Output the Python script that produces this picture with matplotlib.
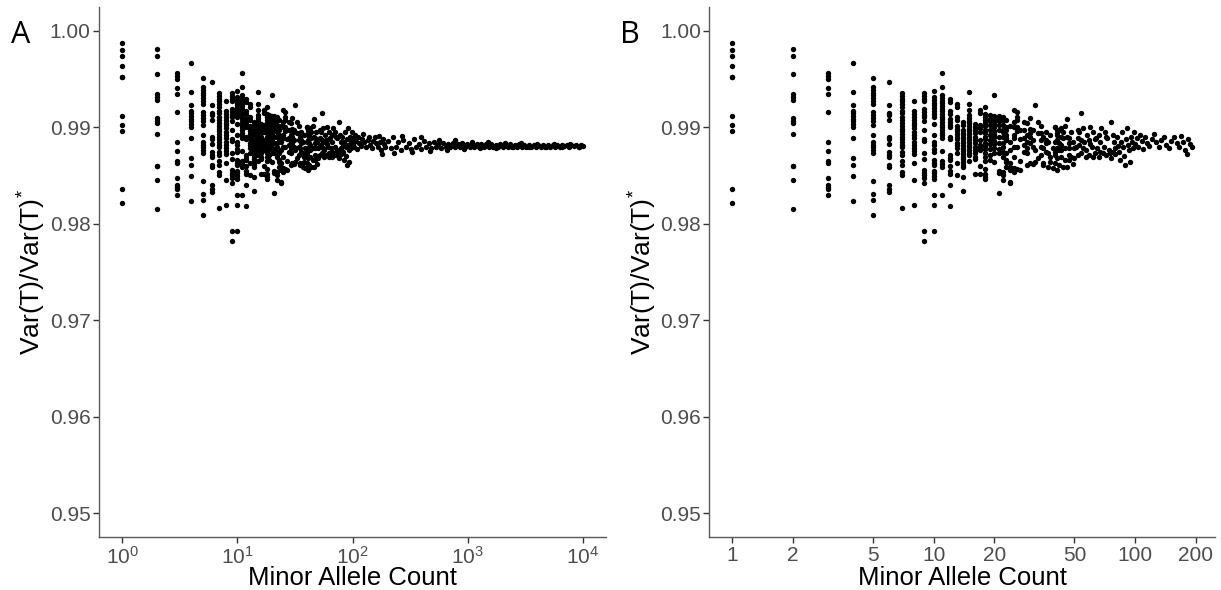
import numpy as np
import matplotlib
matplotlib.use("Agg")
import matplotlib.pyplot as plt

plt.rcParams["font.family"] = ["Liberation Sans", "DejaVu Sans"]
plt.rcParams["mathtext.fontset"] = "custom"
plt.rcParams["mathtext.rm"] = "Liberation Sans"
plt.rcParams["mathtext.it"] = "Liberation Sans"
plt.rcParams["mathtext.default"] = "regular"

# variance ratio values read per minor allele count (low counts, one column each)
mac1 = [0.99876, 0.99800, 0.99737, 0.99634, 0.99523, 0.99516, 0.99119, 0.99019, 0.98957, 0.98359, 0.98211]
mac2 = [0.99807, 0.99737, 0.99548, 0.99344, 0.99309, 0.99282, 0.99092, 0.99064, 0.99040, 0.98933,
        0.98601, 0.98594, 0.98453, 0.98156]
mac3 = [0.99558, 0.99530, 0.99503, 0.99409, 0.99344, 0.99154, 0.98850, 0.98753, 0.98653, 0.98632,
        0.98473, 0.98397, 0.98377, 0.98356, 0.98294]
mac4 = [0.99662, 0.99364, 0.99226, 0.99171, 0.99143, 0.99116, 0.99088, 0.99060, 0.99033, 0.99005,
        0.98888, 0.98681, 0.98605, 0.98494, 0.98238]
mac5 = [0.99513, 0.99413, 0.99385, 0.99358, 0.99330, 0.99302, 0.99271, 0.99240, 0.99161, 0.99126,
        0.99095, 0.99064, 0.99026, 0.98915, 0.98846, 0.98819, 0.98791, 0.98763, 0.98736, 0.98439,
        0.98308, 0.98245, 0.98093]
mac6 = [0.99465, 0.99226, 0.99150, 0.99123, 0.99074, 0.98902, 0.98881, 0.98826, 0.98743, 0.98715,
        0.98694, 0.98611, 0.98584, 0.98397, 0.98363, 0.98328]
mac7 = [0.99351, 0.99323, 0.99295, 0.99268, 0.99240, 0.99206, 0.99171, 0.99143, 0.99109, 0.99074,
        0.99040, 0.99012, 0.98985, 0.98957, 0.98929, 0.98902, 0.98874, 0.98846, 0.98819, 0.98791,
        0.98743, 0.98715, 0.98646, 0.98611, 0.98535, 0.98508, 0.98162]
mac8 = [0.99271, 0.99168, 0.99137, 0.99109, 0.99074, 0.99047, 0.99019, 0.98988, 0.98953, 0.98919,
        0.98884, 0.98850, 0.98815, 0.98788, 0.98753, 0.98719, 0.98632, 0.98453, 0.98193]
mac9 = [0.99351, 0.99323, 0.99295, 0.99268, 0.99192, 0.99157, 0.99130, 0.99102, 0.99067, 0.98971,
        0.98881, 0.98853, 0.98729, 0.98674, 0.98556, 0.98529, 0.98501, 0.98473, 0.98418, 0.97928,
        0.97817]
mac10 = [0.99378, 0.99309, 0.99282, 0.99254, 0.99226, 0.99199, 0.99171, 0.99137, 0.99102, 0.99033,
         0.98915, 0.98846, 0.98819, 0.98777, 0.98743, 0.98660, 0.98632, 0.98605, 0.98549, 0.98522,
         0.98494, 0.98466, 0.98301, 0.98197, 0.97928]
mac11 = [0.99558, 0.99413, 0.99330, 0.99302, 0.99275, 0.99247, 0.99219, 0.99192, 0.99164, 0.99137,
         0.99109, 0.99081, 0.99054, 0.99026, 0.98998, 0.98971, 0.98943, 0.98915, 0.98888, 0.98750,
         0.98646, 0.98618, 0.98591, 0.98301]
mac12 = [0.99288, 0.99261, 0.99171, 0.99137, 0.99081, 0.99054, 0.99026, 0.98998, 0.98902, 0.98874,
         0.98715, 0.98681, 0.98660, 0.98598, 0.98542, 0.98515, 0.98397, 0.98183]
mac13 = [0.99240, 0.99212, 0.99102, 0.99074, 0.99012, 0.98985, 0.98957, 0.98929, 0.98902, 0.98874,
         0.98839, 0.98812, 0.98784, 0.98736, 0.98632, 0.98508]
mac14 = [0.99054, 0.99026, 0.98971, 0.98943, 0.98915, 0.98888, 0.98860, 0.98833, 0.98805, 0.98777,
         0.98750, 0.98722, 0.98694, 0.98667, 0.98639, 0.98611, 0.98584, 0.98487, 0.98335]
mac15 = [0.99364, 0.99240, 0.99178, 0.99123, 0.99095, 0.99067, 0.99040, 0.99012, 0.98985, 0.98957,
         0.98929, 0.98902, 0.98874, 0.98846, 0.98819, 0.98791, 0.98763, 0.98736, 0.98708, 0.98653]
mac16 = [0.99033, 0.99005, 0.98971, 0.98936, 0.98902, 0.98867, 0.98833, 0.98798, 0.98763, 0.98729,
         0.98694, 0.98667, 0.98515]
mac17 = [0.99178, 0.99150, 0.99019, 0.98991, 0.98950, 0.98867, 0.98819, 0.98791, 0.98763, 0.98598,
         0.98515]
mac18 = [0.99206, 0.99137, 0.99109, 0.99074, 0.99047, 0.99012, 0.98971, 0.98936, 0.98902, 0.98874,
         0.98839, 0.98805, 0.98770, 0.98729, 0.98694, 0.98646, 0.98570, 0.98515, 0.98487, 0.98460]
mac19 = [0.99123, 0.99088, 0.99061, 0.99019, 0.98971, 0.98922, 0.98867, 0.98826, 0.98770, 0.98715,
         0.98660]
mac20 = [0.99330, 0.99116, 0.99088, 0.99061, 0.99033, 0.98998, 0.98964, 0.98929, 0.98895, 0.98860,
         0.98826, 0.98784, 0.98736, 0.98639]
mac21 = [0.99116, 0.99088, 0.99067, 0.99019, 0.98971, 0.98895, 0.98833, 0.98777, 0.98729, 0.98549,
         0.98522, 0.98321]

# mid range cloud (counts 22-80)
mid_counts = [22, 22, 23, 22, 23, 22, 22, 23, 22, 23, 22, 22, 22, 23, 22, 23, 23, 24, 24, 25,
              26, 27, 23, 24, 25, 22, 22, 22, 24, 24, 25, 26, 26, 26, 25, 25, 26, 27, 25, 25,
              23, 24, 25, 26, 29, 28, 28, 29, 28, 29, 29, 30, 30, 31, 30, 31, 29, 30, 32, 30,
              32, 33, 34, 35, 36, 34, 36, 34, 36, 34, 37, 38, 35, 37, 39, 40, 41, 41, 41, 40,
              41,
              40, 42, 43, 45, 46, 54, 41, 43, 44, 46, 47, 40, 42, 43, 47, 49, 52, 53, 52, 54,
              56, 59, 60, 62, 64, 66, 68, 71, 73, 76, 78, 41, 43, 45, 47, 50, 53, 55, 57, 61,
              63, 67, 69, 72, 75, 78, 40, 43, 47, 48, 52, 54, 59, 62, 66, 40, 42, 44, 46, 41,
              47, 50, 76,
              23, 24, 24, 25, 26, 27, 27, 28, 28, 29, 30, 31, 31, 32, 33, 33, 34, 35, 35, 36,
              37, 38, 38, 39, 42, 44, 45, 48, 49, 51, 55, 57, 58, 60, 63, 65, 67, 70, 72, 74]
mid_values = [0.99109, 0.99074, 0.99074, 0.99023, 0.98998, 0.98971, 0.98953, 0.98971, 0.98902, 0.98884,
              0.98833, 0.98798, 0.98746, 0.98729, 0.98694, 0.98660, 0.98643, 0.98625, 0.98591, 0.98573,
              0.98563, 0.98556, 0.98591, 0.98556, 0.98539, 0.98539, 0.98504, 0.98453, 0.98435, 0.98418,
              0.99178, 0.99161, 0.99109, 0.99074, 0.99057, 0.99005, 0.99005, 0.98971, 0.98919, 0.98884,
              0.98867, 0.98850, 0.98798, 0.98798, 0.99040, 0.98971, 0.98884, 0.98850, 0.98815, 0.98781,
              0.98919, 0.98902, 0.98936, 0.98971, 0.98833, 0.98798, 0.98729, 0.98625, 0.98643, 0.99092,
              0.99230, 0.99057, 0.98936, 0.98902, 0.98867, 0.98867, 0.98833, 0.98798, 0.98746, 0.98712,
              0.98729, 0.98694, 0.98625, 0.98591, 0.98573, 0.99005, 0.98971, 0.98936, 0.98867, 0.98746,
              0.98677,
              0.99005, 0.98971, 0.98988, 0.99012, 0.99081, 0.99150, 0.98919, 0.98902, 0.98884, 0.98902,
              0.98884, 0.98850, 0.98833, 0.98815, 0.98833, 0.98850, 0.98971, 0.98953, 0.98884, 0.98867,
              0.98850, 0.98867, 0.99005, 0.98953, 0.98884, 0.98919, 0.98988, 0.98953, 0.98884, 0.99057,
              0.98919, 0.98781, 0.98763, 0.98781, 0.98781, 0.98781, 0.98815, 0.98781, 0.98763, 0.98798,
              0.98729, 0.98746, 0.98729, 0.98712, 0.98729, 0.98746, 0.98712, 0.98694, 0.98712, 0.98694,
              0.98712, 0.98729, 0.98712, 0.98694, 0.98694, 0.98625, 0.98608, 0.98591, 0.98591, 0.98556,
              0.98660, 0.98677, 0.98677,
              0.98920, 0.99010, 0.98760, 0.98690, 0.98960, 0.98880, 0.98650, 0.99050, 0.98740, 0.98610,
              0.98980, 0.98870, 0.98620, 0.98760, 0.98940, 0.98680, 0.99010, 0.98780, 0.98610, 0.98950,
              0.98850, 0.98920, 0.98640, 0.98780, 0.98760, 0.98950, 0.98660, 0.98950, 0.98620, 0.98800,
              0.98990, 0.98690, 0.98920, 0.98830, 0.98880, 0.98780, 0.98850, 0.98800, 0.98900, 0.98760]

# upper range of panel B (counts 79-192)
high_counts = [79, 80, 80, 81, 82, 83, 84, 85, 86, 87, 88, 89, 90, 91, 92, 93, 94, 96, 97, 98,
               99, 100, 102, 104, 106, 108, 110, 112, 115, 118, 121, 124, 127, 131, 135, 139, 143, 147,
               151, 156, 161, 166, 170, 174, 178, 181, 184, 188, 192]
high_values = [0.98850, 0.98780, 0.98720, 0.98900, 0.98810, 0.98740, 0.98660, 0.98850, 0.98950, 0.98790,
               0.98700, 0.98610, 0.98880, 0.98990, 0.98820, 0.98760, 0.98640, 0.98900, 0.98850, 0.98780,
               0.98950, 0.98830, 0.98890, 0.98800, 0.98920, 0.98860, 0.98770, 0.98900, 0.98840, 0.98810,
               0.98880, 0.98930, 0.98850, 0.98800, 0.98870, 0.98900, 0.98820, 0.98780, 0.98860, 0.98900,
               0.98840, 0.98800, 0.98910, 0.98850, 0.98760, 0.98720, 0.98880, 0.98830, 0.98800]

# tail only visible in panel A (counts 205-10000)
tail_counts = [205, 214, 226, 238, 250, 263, 277, 292, 307, 323, 340, 358, 376, 395, 415, 436,
               458, 481, 505, 530, 556, 584, 613, 643, 675, 708, 743, 780, 818, 858, 900, 944,
               990, 1038, 1089, 1142, 1198, 1256, 1317, 1381, 1448, 1518, 1592, 1669, 1750, 1835,
               1924, 2017, 2115, 2217, 2325, 2437, 2555, 2679, 2809, 2945, 3088, 3237, 3394, 3558,
               3730, 3911, 4100, 4299, 4507, 4725, 4954, 5193, 5445, 5708, 5985, 6274, 6578, 6896,
               7230, 7580, 7947, 8331, 8734, 9157, 9600, 10000,
               230, 270, 330, 390, 470, 560, 660, 780, 920, 1080, 1270, 1500, 1770, 2090, 2460,
               2900, 3420, 4030, 4750, 5600, 6600, 7780, 9170]
tail_values = [0.98860, 0.98780, 0.98900, 0.98790, 0.98850, 0.98760, 0.98870, 0.98800, 0.98840, 0.98770,
               0.98880, 0.98790, 0.98830, 0.98770, 0.98860, 0.98800, 0.98840, 0.98780, 0.98850, 0.98800,
               0.98830, 0.98780, 0.98840, 0.98800, 0.98830, 0.98790, 0.98840, 0.98800, 0.98830, 0.98790,
               0.98835, 0.98800, 0.98830, 0.98795, 0.98825, 0.98800, 0.98830, 0.98795, 0.98825, 0.98800,
               0.98830, 0.98795, 0.98825, 0.98800, 0.98820, 0.98795, 0.98825, 0.98800, 0.98820, 0.98795,
               0.98825, 0.98800, 0.98820, 0.98800, 0.98825, 0.98800, 0.98820, 0.98795, 0.98820, 0.98800,
               0.98820, 0.98800, 0.98815, 0.98800, 0.98820, 0.98800, 0.98815, 0.98800, 0.98820, 0.98800,
               0.98815, 0.98800, 0.98815, 0.98805, 0.98820, 0.98800, 0.98815, 0.98805, 0.98815, 0.98800,
               0.98815, 0.98810,
               0.98730, 0.98910, 0.98740, 0.98900, 0.98750, 0.98870, 0.98760, 0.98870, 0.98770, 0.98850,
               0.98780, 0.98850, 0.98780, 0.98840, 0.98790, 0.98840, 0.98790, 0.98830, 0.98790, 0.98830,
               0.98790, 0.98830, 0.98790]

low_cols = [mac1, mac2, mac3, mac4, mac5, mac6, mac7, mac8, mac9, mac10, mac11,
            mac12, mac13, mac14, mac15, mac16, mac17, mac18, mac19, mac20, mac21]

counts = []
values = []
for i, col in enumerate(low_cols):
    counts += [i + 1] * len(col)
    values += col
counts += mid_counts + high_counts + tail_counts
values += mid_values + high_values + tail_values
counts = np.array(counts, dtype=float)
values = np.array(values)

fig = plt.figure(figsize=(12.21, 5.90), dpi=100)
axA = fig.add_axes([0.0811, 0.0893, 0.4152, 0.8995])
axB = fig.add_axes([0.5809, 0.0893, 0.4142, 0.8995])

grey_text = "#4d4d4d"
line_col = "#5a5a5a"


def style(ax):
    for s in ["top", "right"]:
        ax.spines[s].set_visible(False)
    for s in ["left", "bottom"]:
        ax.spines[s].set_color(line_col)
        ax.spines[s].set_linewidth(1.0)
    ax.tick_params(axis="both", which="major", length=4, width=1.0, color="#333333",
                   labelsize=15, labelcolor=grey_text, pad=2)
    ax.tick_params(axis="both", which="minor", length=0)
    ax.set_ylim(0.9475, 1.0025)
    ax.set_yticks([0.95, 0.96, 0.97, 0.98, 0.99, 1.00])
    ax.set_yticklabels(["0.95", "0.96", "0.97", "0.98", "0.99", "1.00"])
    ax.set_xscale("log")
    ax.set_xlabel("Minor Allele Count", fontsize=18.5, color="black")
    ax.set_ylabel("Var(T)/Var(T)$^{*}$", fontsize=19, color="black")
    ax.xaxis.set_label_coords(0.5, -0.054)
    ax.yaxis.set_label_coords(-0.100, 0.5)


# panel A: all counts
axA.scatter(counts, values, s=15, color="black", linewidths=0)
style(axA)
axA.set_xlim(10 ** -0.2, 10 ** 4.2)
axA.set_xticks([1, 10, 100, 1000, 10000])
axA.set_xticklabels([r"$10^{0}$", r"$10^{1}$", r"$10^{2}$", r"$10^{3}$", r"$10^{4}$"])

# panel B: counts up to 200
keep = counts <= 200
axB.scatter(counts[keep], values[keep], s=15, color="black", linewidths=0)
style(axB)
lo = np.log10(counts[keep].min())
hi = np.log10(counts[keep].max())
pad = 0.05 * (hi - lo)
axB.set_xlim(10 ** (lo - pad), 10 ** (hi + pad))
axB.set_xticks([1, 2, 5, 10, 20, 50, 100, 200])
axB.set_xticklabels(["1", "2", "5", "10", "20", "50", "100", "200"])

fig.text(0.009, 0.94, "A", fontsize=22, family="Open Sans", va="center", ha="left")
fig.text(0.508, 0.94, "B", fontsize=22, family="Open Sans", va="center", ha="left")

fig.savefig("out.png", dpi=100)
